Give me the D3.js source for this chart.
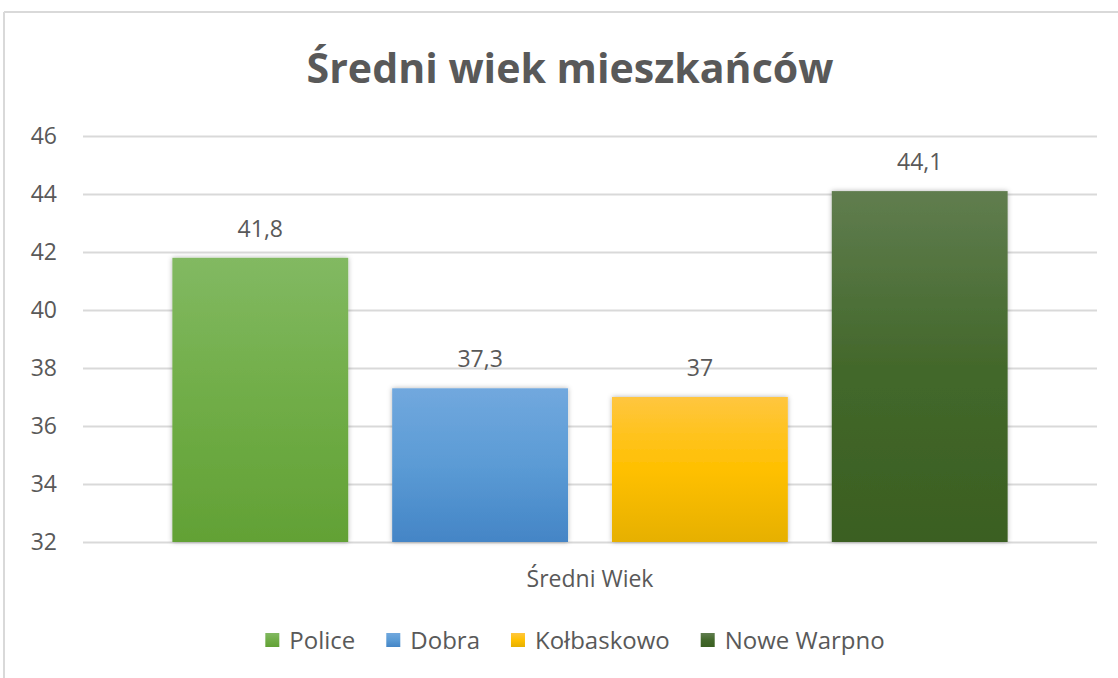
<!DOCTYPE html>
<html>
<head>
<meta charset="utf-8">
<script src="https://cdn.jsdelivr.net/npm/d3@7"></script>
<style>
  html, body { margin: 0; padding: 0; background: #fff; }
  text { font-family: "Open Sans", "Liberation Sans", sans-serif; fill: #595959; }
</style>
</head>
<body>
<div id="viz"></div>
<script>
// data
const title = "Średni wiek mieszkańców";
const categories = ["Średni Wiek"];
const seriesNames = ["Police", "Dobra", "Kołbaskowo", "Nowe Warpno"];
const values = [41.8, 37.3, 37, 44.1];
const yTicks = [32, 34, 36, 38, 40, 42, 44, 46];

// gradient stops per series: top, middle, bottom
const colorsTop = ["#82b962", "#71a8de", "#ffc63f", "#607d4f"];
const colorsMid = ["#70ad47", "#5b9bd5", "#ffc000", "#43682b"];
const colorsBottom = ["#62a135", "#4485c6", "#e6b000", "#3a5f21"];

const width = 1118, height = 678;
const plot = { left: 83, right: 1097, top: 136, bottom: 542 };

const svg = d3.select("#viz").append("svg")
    .attr("width", width)
    .attr("height", height);

const defs = svg.append("defs");

// soft shadow like the office chart style
const shadow = defs.append("filter")
    .attr("id", "shadow")
    .attr("x", "-10%").attr("y", "-10%")
    .attr("width", "120%").attr("height", "120%");
shadow.append("feDropShadow")
    .attr("dx", 0).attr("dy", 0)
    .attr("stdDeviation", 2.5)
    .attr("flood-color", "#000")
    .attr("flood-opacity", 0.3);

seriesNames.forEach((s, i) => {
    const g = defs.append("linearGradient")
        .attr("id", "grad" + i)
        .attr("x1", 0).attr("y1", 0).attr("x2", 0).attr("y2", 1);
    g.append("stop").attr("offset", "0%").attr("stop-color", colorsTop[i]);
    g.append("stop").attr("offset", "50%").attr("stop-color", colorsMid[i]);
    g.append("stop").attr("offset", "100%").attr("stop-color", colorsBottom[i]);
});

// chart frame (only top and left edges show in the crop)
svg.append("line")
    .attr("x1", 4).attr("x2", width).attr("y1", 12).attr("y2", 12)
    .attr("stroke", "#d9d9d9").attr("stroke-width", 2);
svg.append("line")
    .attr("x1", 4).attr("x2", 4).attr("y1", 12).attr("y2", height)
    .attr("stroke", "#d9d9d9").attr("stroke-width", 2);

// title, fitted to the width it has in the picture
const titleText = svg.append("text")
    .attr("x", 570)
    .attr("y", 83)
    .attr("text-anchor", "middle")
    .style("font-weight", "bold")
    .style("font-size", "40px")
    .text(title);
const tw = titleText.node().getComputedTextLength();
titleText.style("font-size", (40 * 527 / tw) + "px");

// scales
const y = d3.scaleLinear()
    .domain([32, 46])
    .range([plot.bottom, plot.top]);

const x0 = d3.scaleBand()
    .domain(categories)
    .range([plot.left, plot.right])
    .paddingInner(0)
    .paddingOuter(0.107);

const x1 = d3.scaleBand()
    .domain(seriesNames)
    .range([0, x0.bandwidth()])
    .paddingInner(0.2)
    .paddingOuter(0);

// y axis with gridlines
const yAxis = svg.append("g")
    .attr("transform", `translate(${plot.left},0)`)
    .call(d3.axisLeft(y)
        .tickValues(yTicks)
        .tickSize(-(plot.right - plot.left))
        .tickPadding(26));
yAxis.select(".domain").remove();
yAxis.selectAll(".tick line")
    .attr("stroke", "#d9d9d9")
    .attr("stroke-width", 2);
yAxis.selectAll(".tick text")
    .style("font-size", "23px")
    .style("fill", "#595959")
    .attr("font-family", null);

// category axis
const xAxis = svg.append("g")
    .attr("transform", `translate(0,${plot.bottom})`)
    .call(d3.axisBottom(x0).tickSize(0).tickPadding(29));
xAxis.select(".domain").remove();
xAxis.selectAll(".tick text")
    .style("font-size", "23px")
    .style("fill", "#595959")
    .attr("font-family", null);

// bars
const barData = seriesNames.map((s, i) => ({ cat: categories[0], name: s, value: values[i], i: i }));

const bars = svg.append("g");
bars.selectAll("rect")
    .data(barData)
    .join("rect")
    .attr("x", d => x0(d.cat) + x1(d.name))
    .attr("y", d => y(d.value))
    .attr("width", x1.bandwidth())
    .attr("height", d => y(32) - y(d.value))
    .attr("fill", d => `url(#grad${d.i})`)
    .attr("filter", "url(#shadow)");

// value labels
svg.append("g").selectAll("text")
    .data(barData)
    .join("text")
    .attr("x", d => x0(d.cat) + x1(d.name) + x1.bandwidth() / 2)
    .attr("y", d => y(d.value) - 21)
    .attr("text-anchor", "middle")
    .style("font-size", "23px")
    .text(d => String(d.value).replace(".", ","));

// legend
const legend = svg.append("g");
let lx = 0;
const legendGap = 31;
seriesNames.forEach((s, i) => {
    const item = legend.append("g").attr("transform", `translate(${lx},0)`);
    item.append("rect")
        .attr("x", 0).attr("y", -16)
        .attr("width", 14).attr("height", 14)
        .attr("fill", `url(#grad${i})`);
    const t = item.append("text")
        .attr("x", 24)
        .attr("y", 0)
        .style("font-size", "24px")
        .text(s);
    lx += 24 + t.node().getComputedTextLength() + legendGap;
});
const legendWidth = lx - legendGap;
legend.attr("transform", `translate(${575 - legendWidth / 2},649)`);
</script>
</body>
</html>
